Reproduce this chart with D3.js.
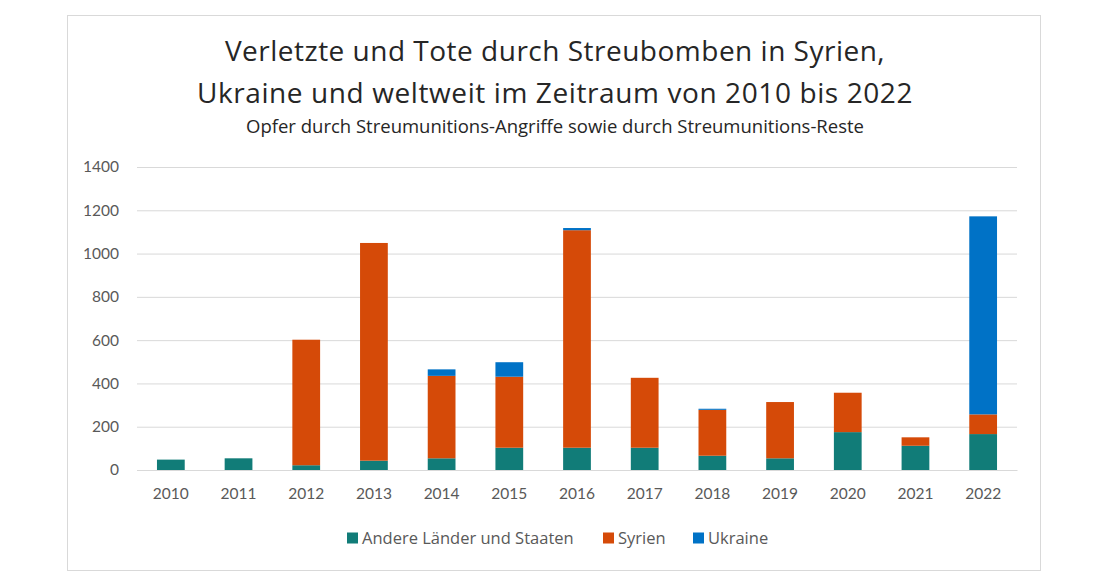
<!DOCTYPE html>
<html><head><meta charset="utf-8">
<script src="https://cdn.jsdelivr.net/npm/d3@7"></script>
<style>body{margin:0;background:#fff;} svg{display:block;}</style>
</head><body>
<svg id="chart" width="1110" height="582"></svg>
<script>
const years = ["2010","2011","2012","2013","2014","2015","2016","2017","2018","2019","2020","2021","2022"];
const andere = [48, 54, 22, 43, 54, 103, 103, 103, 66, 54, 175, 112, 166];
const syrien = [0, 0, 580, 1006, 381, 328, 1005, 323, 212, 260, 182, 39, 91];
const ukraine = [0, 0, 0, 0, 30, 67, 10, 0, 5, 0, 0, 0, 915];
const seriesNames = ["Andere Länder und Staaten", "Syrien", "Ukraine"];
const seriesColors = ["#117c78", "#d54a08", "#0072c6"];
const yTicks = [0, 200, 400, 600, 800, 1000, 1200, 1400];

const svg = d3.select("#chart");
const font = "Lato, 'Open Sans', sans-serif";
const tfont = "'Open Sans', Lato, sans-serif";

svg.append("rect").attr("x", 67.5).attr("y", 15.5).attr("width", 973).attr("height", 555)
  .attr("fill", "#fff").attr("stroke", "#d9d9d9");

const m = {left: 137, right: 1017, top: 167, bottom: 470};
const x = d3.scaleBand().domain(years).range([m.left, m.right]).paddingInner(0.59).paddingOuter(0.295);
const y = d3.scaleLinear().domain([0, 1400]).range([m.bottom, m.top]);

const data = years.map((yr, i) => ({year: yr, a: andere[i], s: syrien[i], u: ukraine[i]}));
const stack = d3.stack().keys(["a", "s", "u"])(data);

// gridlines
const yAxis = d3.axisLeft(y).tickValues(yTicks).tickFormat(d3.format("d")).tickSize(-(m.right - m.left)).tickPadding(18);
const gy = svg.append("g").attr("transform", `translate(${m.left},0)`).call(yAxis);
gy.select(".domain").remove();
gy.selectAll(".tick line").attr("stroke", "#d9d9d9");
gy.selectAll(".tick text").attr("fill", "#595959").style("font-family", font).style("font-size", "15.5px");

// bars
svg.append("g").selectAll("g").data(stack).join("g")
  .attr("fill", (d, i) => seriesColors[i])
  .selectAll("rect").data(d => d).join("rect")
  .attr("x", d => x(d.data.year))
  .attr("width", x.bandwidth())
  .attr("y", d => y(d[1]))
  .attr("height", d => Math.max(0, y(d[0]) - y(d[1])));

// x axis
const xAxis = d3.axisBottom(x).tickSize(0).tickPadding(18);
const gx = svg.append("g").attr("transform", `translate(0,${m.bottom})`).call(xAxis);
gx.select(".domain").attr("stroke", "#d9d9d9");
gx.selectAll(".tick text").attr("fill", "#595959").style("font-family", font).style("font-size", "15.5px");

// titles
svg.append("text").attr("x", 555).attr("y", 61).attr("text-anchor", "middle")
  .style("font-family", tfont).style("font-size", "28px").style("letter-spacing", "0.5px").attr("fill", "#262626")
  .text("Verletzte und Tote durch Streubomben in Syrien,");
svg.append("text").attr("x", 555).attr("y", 103).attr("text-anchor", "middle")
  .style("font-family", tfont).style("font-size", "28px").style("letter-spacing", "0.6px").attr("fill", "#262626")
  .text("Ukraine und weltweit im Zeitraum von 2010 bis 2022");
svg.append("text").attr("x", 555).attr("y", 133).attr("text-anchor", "middle")
  .style("font-family", tfont).style("font-size", "18.5px").attr("fill", "#262626")
  .text("Opfer durch Streumunitions-Angriffe sowie durch Streumunitions-Reste");

// legend
const legX = [347, 603, 693];
const leg = svg.append("g");
seriesNames.forEach((n, i) => {
  leg.append("rect").attr("x", legX[i]).attr("y", 532.5).attr("width", 11).attr("height", 11).attr("fill", seriesColors[i]);
  leg.append("text").attr("x", legX[i] + 15).attr("y", 544).attr("fill", "#595959")
    .style("font-family", tfont).style("font-size", "16.5px").text(n);
});
</script>
</body></html>
